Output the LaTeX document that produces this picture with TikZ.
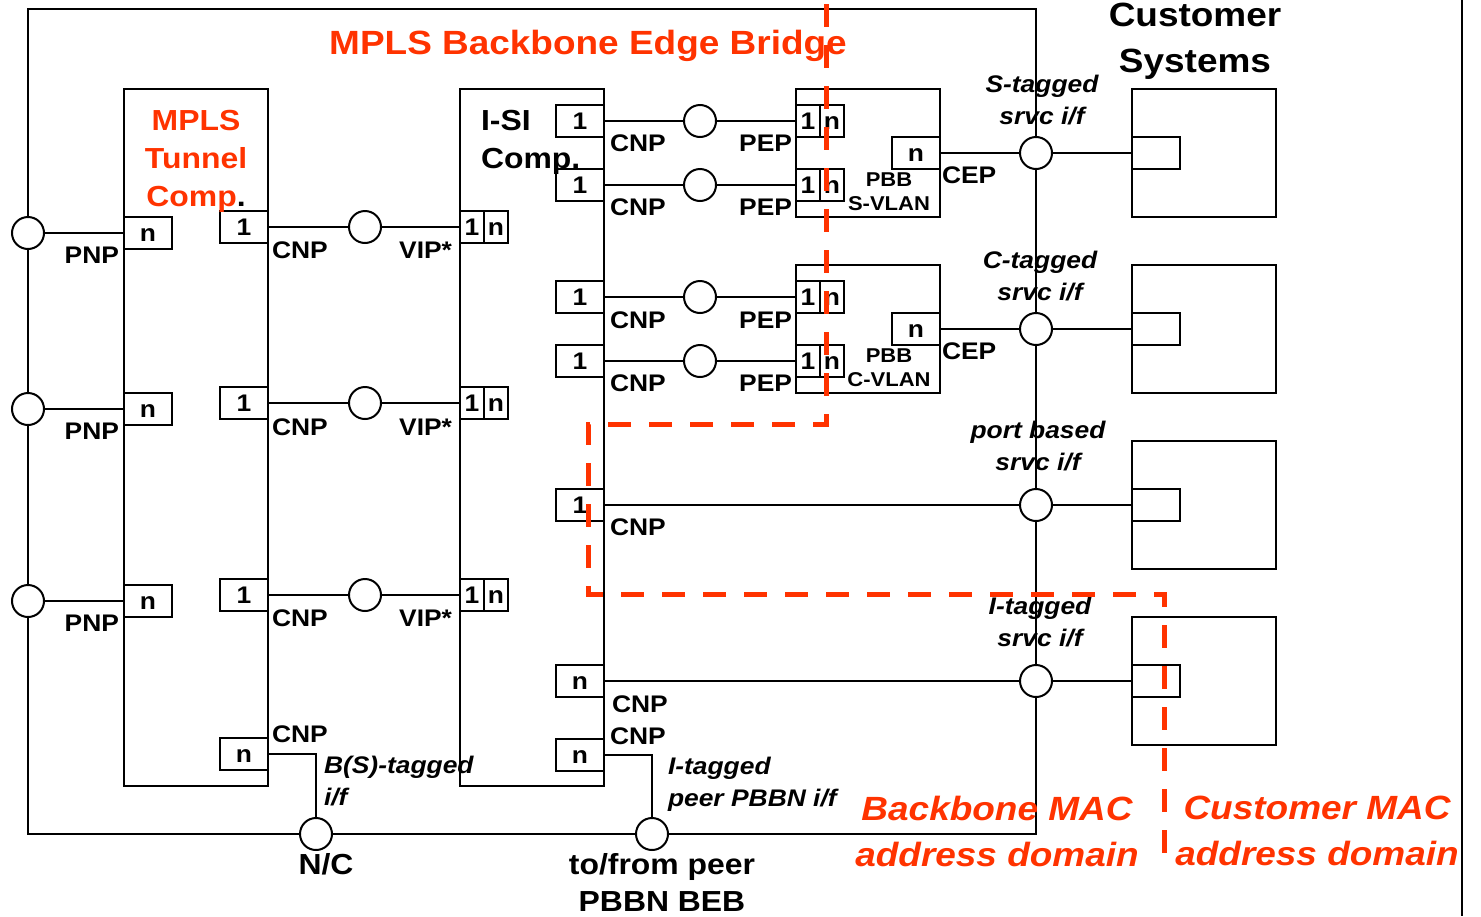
\documentclass[tikz,border=0pt]{standalone}
\usepackage{fontspec}
\setmainfont{Liberation Sans}[FakeStretch=1.1]
\usetikzlibrary{calc}
\definecolor{mporange}{RGB}{255,51,0}
\newcommand\fs[2]{\fontsize{#1}{#2}\selectfont}
\newcommand\splitport[3]{%
  \node[port] (#1) at (#2,#3) {};
  \draw[ln] (#1.north) -- (#1.south);
  \node[portlbl] (#1-a) at ([xshift=-6pt]#1.center) {1};
  \node[portlbl] (#1-b) at ([xshift=6pt]#1.center) {n};}
\begin{document}
\begin{tikzpicture}[x=0.5pt,y=-0.5pt,
  every node/.style={inner sep=0pt, outer sep=0pt},
  ln/.style={line width=1pt, draw=black},
  compbox/.style={draw, line width=1pt, minimum width=72pt, minimum height=348.5pt},
  smallbox/.style={draw, line width=1pt, minimum width=72pt, minimum height=64pt},
  port/.style={draw, fill=white, line width=1pt, minimum width=24pt, minimum height=16pt,
    font=\bfseries\fs{12}{14}, text height=8.6pt, text depth=0pt},
  portlbl/.style={font=\bfseries\fs{12}{14}, text height=8.6pt, text depth=0pt},
  sap/.style={draw, fill=white, circle, line width=1pt, minimum size=16pt},
  lbl/.style={font=\bfseries\fs{12}{14}},
  ital/.style={font=\bfseries\itshape\fs{12}{16}, align=center},
  pbbtxt/.style={font=\bfseries\fs{10}{12}, align=center},
  comptxt/.style={font=\bfseries\fs{14.5}{19}, align=center},
  big/.style={font=\bfseries\fs{14.5}{18.5}, align=center},
  huge/.style={font=\bfseries\fs{16.8}{23}, align=center},
  dom/.style={font=\bfseries\itshape\fs{16.8}{23}, text=mporange, align=center},
  divide/.style={draw=mporange, line width=2.5pt, dash pattern=on 11.5pt off 9pt}
]
\path[use as bounding box] (0,0) rectangle (1481,916);

% main boxes
\node[draw, line width=1pt, minimum width=504pt, minimum height=412.5pt] (beb) at (532,421.5) {};
\node[compbox] (tun) at (196,437.5) {};
\node[compbox] (isi) at (532,437.5) {};
\node[smallbox] (pbbs) at (868,153) {};
\node[smallbox] (pbbc) at (868,329) {};
\foreach \i/\y in {1/153,2/329,3/505,4/681} {
  \node[smallbox] (cs\i) at (1204,\y) {};
  \node[port] (cp\i) at (1156,\y) {};
  \node[sap] (srv\i) at (1036,\y) {};
}
\coordinate (rt) at (1462,0);
\coordinate (rb) at (1462,916);
\draw[ln] (rt) -- (rb);

% tunnel component ports
\foreach \i/\y in {1/233,2/409,3/601} {
  \node[port] (tpn\i) at (148,\y) {n};
  \node[sap] (pnp\i) at (28,\y) {};
  \draw[ln] (pnp\i) -- (tpn\i);
}
\foreach \i/\y in {1/227,2/403,3/595} {
  \node[port] (tp\i) at (244,\y) {1};
  \node[sap] (vipc\i) at (365,\y) {};
  \splitport{vip\i}{484}{\y}
  \draw[ln] (tp\i) -- (vipc\i);
  \draw[ln] (vipc\i) -- (vip\i);
}
\node[port] (tpnb) at (244,754) {n};
\node[sap] (nc) at (316,834) {};
\draw[ln] (tpnb) -| (nc);

% I-SI ports
\foreach \i/\y/\t in {1/121/1,2/185/1,3/297/1,4/361/1,5/505/1,6/681/n,7/755/n} {
  \node[port] (ip\i) at (580,\y) {\t};
}
\foreach \i/\y in {1/121,2/185,3/297,4/361} {
  \node[sap] (pepc\i) at (700,\y) {};
  \splitport{pep\i}{820}{\y}
  \draw[ln] (ip\i) -- (pepc\i);
  \draw[ln] (pepc\i) -- (pep\i);
}
\node[port] (pbn1) at (916,153) {n};
\node[port] (pbn2) at (916,329) {n};
\node[sap] (peer) at (652,834) {};
\draw[ln] (pbn1) -- (srv1);
\draw[ln] (pbn2) -- (srv2);
\draw[ln] (ip5) -- (srv3);
\draw[ln] (ip6) -- (srv4);
\foreach \i in {1,2,3,4} { \draw[ln] (srv\i) -- (cp\i); }
\draw[ln] (ip7) -| (peer);

% texts
\node[huge, text=mporange] (ttl) at (588,45.5) {MPLS Backbone Edge Bridge};
\node[huge] (cust) at (1195,41.5) {Customer\\Systems};
\node[comptxt, text=mporange] (tuntxt) at (196,161) {MPLS\\Tunnel\\Comp\textcolor{black}{.}};
\node[comptxt, anchor=west, align=left] (isitxt) at (481,142) {I-SI\\Comp.};
\foreach \i/\y in {1/255,2/431,3/623} {
  \node[lbl, anchor=east] (pnpl\i) at (119,\y) {PNP};
}
\foreach \i/\y in {1/250,2/427,3/618} {
  \node[lbl, anchor=west] (tcnp\i) at (272,\y) {CNP};
  \node[lbl, anchor=east] (vipl\i) at (452,\y) {VIP*};
}
\node[lbl, anchor=west] (tcnpb) at (272,734) {CNP};
\node[ital, anchor=west, align=left] (bstag) at (324,781) {B(S)-tagged\\i/f};
\foreach \i/\x/\y in {1/610/143,2/610/207,3/610/320,4/610/383,5/610/527,6/612/704,7/610/736} {
  \node[lbl, anchor=west] (icnp\i) at (\x,\y) {CNP};
}
\foreach \i/\y in {1/143,2/207,3/320,4/383} {
  \node[lbl, anchor=east] (pepl\i) at (792,\y) {PEP};
}
\node[pbbtxt] (pbbsl) at (889,192) {PBB\\S-VLAN};
\node[pbbtxt] (pbbcl) at (889,368) {PBB\\C-VLAN};
\node[lbl, anchor=west] (cep1) at (942,175) {CEP};
\node[lbl, anchor=west] (cep2) at (942,351) {CEP};
\node[ital] (stag) at (1042,100) {S-tagged\\srvc i/f};
\node[ital] (ctag) at (1040,276) {C-tagged\\srvc i/f};
\node[ital] (pbtag) at (1038,446) {port based\\srvc i/f};
\node[ital] (itag) at (1040,622) {I-tagged\\srvc i/f};
\node[ital, anchor=west, align=left] (ipeer) at (668,784.5) {I-tagged\\peer PBBN i/f};
\node[big] (nclbl) at (326,864) {N/C};
\node[big] (peerlbl) at (662,882.5) {to/from peer\\PBBN BEB};
\node[dom] (bdom) at (997,831) {Backbone MAC\\address domain};
\node[dom] (cdom) at (1317,831) {Customer MAC\\address domain};

% domain boundary
\coordinate (da) at (826,4);
\coordinate (db) at (826,424);
\coordinate (dc) at (588,424);
\coordinate (dd) at (588,594);
\coordinate (de) at (1164,594);
\coordinate (df) at (1164,866);
\draw[divide] (da) -- (db) -- (dc) -- (dd) -- (de) -- (df);
\end{tikzpicture}
\end{document}
